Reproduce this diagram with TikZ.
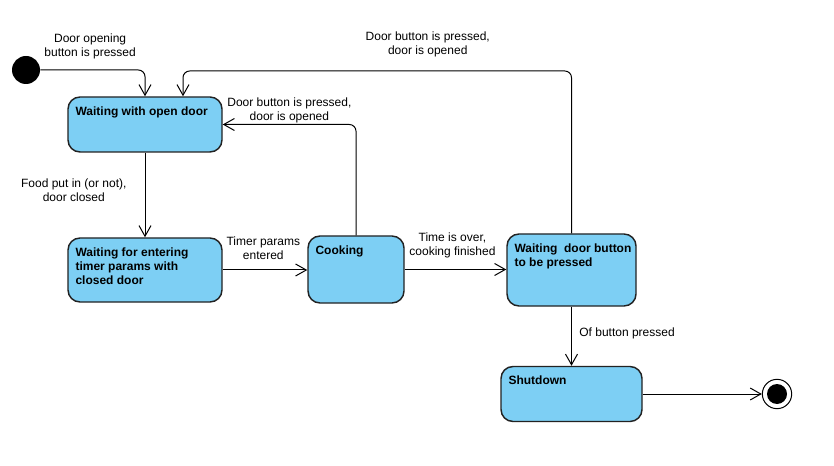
\documentclass[tikz,border=0pt]{standalone}
\usepackage{fontspec}
\setmainfont{Liberation Sans}
\usetikzlibrary{arrows.meta}
\usetikzlibrary{positioning}
\definecolor{stateblue}{RGB}{125,207,244}
\definecolor{edgegray}{RGB}{34,34,34}

\begin{document}
\begin{tikzpicture}[x=0.75pt, y=-0.75pt,
    state/.style={draw=edgegray, line width=1.1pt, fill=stateblue, rounded corners=9pt, inner sep=0pt},
    statetext/.style={anchor=north west, inner sep=0pt, xshift=6pt, yshift=-7.4pt, align=left,
        font=\fontsize{9}{10.5}\selectfont\bfseries},
    lbl/.style={inner sep=1pt, align=center, font=\fontsize{9}{10.5}\selectfont},
    flow/.style={-{Straight Barb[length=8pt, width=9pt]}, line width=0.75pt, rounded corners=5pt}]
    \useasboundingbox (0,0) rectangle (834,466);
    % initial state
    \node[circle, fill=black, minimum size=21pt, inner sep=0pt] (start) at (26,70) {};
    % states
    \node[state, minimum width=115.5pt, minimum height=41.25pt,
        label={[statetext]north west:Waiting with open door}] (open) at (145,124.5) {};
    \node[state, minimum width=115.5pt, minimum height=48pt,
        label={[statetext]north west:Waiting for entering\\timer params with\\closed door}] (entering) at (145,270) {};
    \node[state, minimum width=72pt, minimum height=50.25pt,
        label={[statetext]north west:Cooking}] (cooking) at (356,269.5) {};
    \node[state, minimum width=96.75pt, minimum height=54pt,
        label={[statetext]north west:Waiting\ \ door button\\to be pressed}] (waitbtn) at (571.5,270) {};
    \node[state, minimum width=105.75pt, minimum height=41.25pt,
        label={[statetext]north west:Shutdown}] (shutdown) at (571.5,394) {};
    % final state
    \node[circle, draw=black, fill=white, line width=0.75pt, minimum size=22pt, inner sep=0pt] (final) at (777,394) {};
    \node[circle, fill=black, minimum size=15pt, inner sep=0pt] at (final) {};
    % bend above the first state
    \coordinate (topbend) at (183,71);
    % transitions
    \draw[flow] (start) -| node[lbl, pos=0.238, above=7pt] {Door opening\\button is pressed} (open);
    \draw[flow] (open) -- node[lbl, pos=0.44, left=12.5pt] {Food put in (or not),\\door closed} (entering);
    \draw[flow] (entering.east) -- node[lbl, pos=0.48, above=6.5pt] {Timer params\\entered} (entering.east -| cooking.west);
    \draw[flow] (cooking.east) -- node[lbl, pos=0.47, above=7pt] {Time is over,\\cooking finished} (cooking.east -| waitbtn.west);
    \draw[flow] (cooking) |- node[lbl, pos=0.75, above=0pt] {Door button is pressed,\\door is opened} (open.east);
    \draw[flow] (waitbtn) |- node[lbl, pos=0.685, above=9pt] {Door button is pressed,\\door is opened} (topbend) -- (topbend |- open.north);
    \draw[flow] (waitbtn) -- node[lbl, pos=0.45, right=4.5pt] {Of button pressed} (shutdown);
    \draw[flow] (shutdown) -- (final);
\end{tikzpicture}
\end{document}
